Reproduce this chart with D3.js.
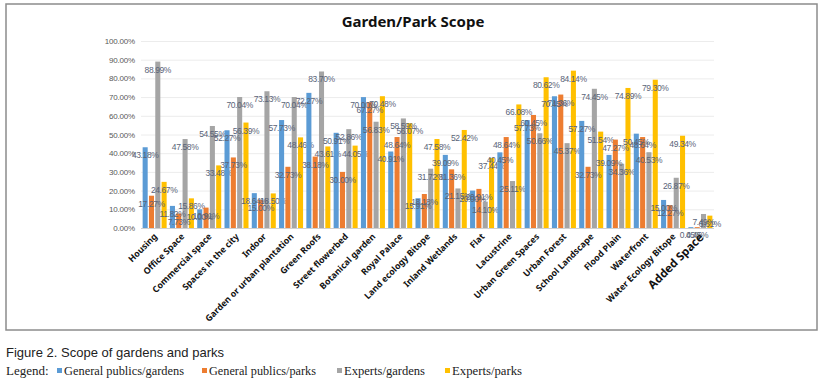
<!DOCTYPE html>
<html>
<head>
<meta charset="utf-8">
<script src="https://cdn.jsdelivr.net/npm/d3@7"></script>
<style>
  body { margin: 0; background: #fff; }
  svg { display: block; }
</style>
</head>
<body>
<div id="chart"></div>
<script>
var categories = ['Housing', 'Office Space', 'Commercial space', 'Spaces in the city', 'Indoor',
    'Garden or urban plantation', 'Green Roofs', 'Street flowerbed', 'Botanical garden', 'Royal Palace',
    'Land ecology Bitope', 'Inland Wetlands', 'Flat', 'Lacustrine', 'Urban Green Spaces', 'Urban Forest',
    'School Landscape', 'Flood Plain', 'Waterfront', 'Water Ecology Bitope', 'Added Space'];

var seriesNames = ['General publics/gardens', 'General publics/parks', 'Experts/gardens', 'Experts/parks'];

var publicGardens = [43.18, 11.82, 10.00, 52.27, 18.64, 57.73, 72.27, 50.91, 70.00, 40.91,
    15.91, 39.09, 20.00, 40.45, 57.73, 70.45, 57.27, 39.09, 50.45, 15.00, 0.45];
var publicParks = [17.27, 7.73, 10.91, 37.73, 15.00, 32.73, 38.18, 30.00, 67.27, 48.64,
    18.18, 31.36, 20.91, 48.64, 60.45, 71.36, 32.73, 47.27, 48.64, 12.27, 0.45];
var expertGardens = [88.99, 47.58, 54.55, 70.04, 73.13, 70.04, 83.70, 52.86, 56.83, 58.59,
    31.72, 21.15, 14.10, 25.11, 50.66, 45.37, 74.45, 34.36, 40.53, 26.87, 7.49];
var expertParks = [24.67, 15.86, 33.48, 56.39, 18.50, 48.46, 43.61, 44.05, 70.48, 56.07,
    47.58, 52.42, 37.44, 66.08, 80.62, 84.14, 51.54, 74.89, 79.30, 49.34, 6.61];

var yTicks = [0, 10, 20, 30, 40, 50, 60, 70, 80, 90, 100];
var colors = ['#5b9bd5', '#ed7d31', '#a5a5a5', '#ffc000'];

var allSeries = [publicGardens, publicParks, expertGardens, expertParks];

var W = 827, H = 381;
var svg = d3.select('#chart').append('svg')
    .attr('width', W)
    .attr('height', H);

// chart frame
svg.append('rect')
    .attr('x', 6).attr('y', 4)
    .attr('width', 811).attr('height', 326)
    .attr('fill', '#fff')
    .attr('stroke', '#8c8c8c')
    .attr('stroke-width', 1.5);

svg.append('text')
    .attr('x', 413).attr('y', 27)
    .attr('text-anchor', 'middle')
    .attr('font-family', 'Noto Sans, sans-serif')
    .attr('font-weight', 'bold')
    .attr('font-size', 15)
    .attr('fill', '#111')
    .text('Garden/Park Scope');

var x = d3.scaleBand()
    .domain(categories)
    .range([141, 714])
    .paddingInner(0.12)
    .paddingOuter(0.06);

var x1 = d3.scaleBand()
    .domain(d3.range(seriesNames.length))
    .range([0, x.bandwidth()])
    .paddingInner(0.2);

var y = d3.scaleLinear()
    .domain([0, 100])
    .range([228, 41]);

// gridlines
svg.append('g')
    .selectAll('line')
    .data(yTicks)
    .enter()
    .append('line')
    .attr('x1', 141).attr('x2', 714)
    .attr('y1', function(d) { return y(d) + 0.5; })
    .attr('y2', function(d) { return y(d) + 0.5; })
    .attr('stroke', function(d) { return d === 0 ? '#d0d0d0' : '#ececec'; })
    .attr('stroke-width', 1);

var yAxis = d3.axisLeft(y)
    .tickValues(yTicks)
    .tickSize(0)
    .tickPadding(0)
    .tickFormat(function(d) { return d.toFixed(2) + '%'; });

var gy = svg.append('g')
    .attr('transform', 'translate(135,0)')
    .call(yAxis);
gy.select('.domain').remove();
gy.selectAll('text')
    .attr('font-family', 'Liberation Sans, Arial, sans-serif')
    .attr('font-size', 8)
    .attr('letter-spacing', -0.2)
    .attr('fill', '#595959');

// bars
var groups = svg.append('g')
    .selectAll('g')
    .data(categories)
    .enter()
    .append('g')
    .attr('transform', function(d) { return 'translate(' + x(d) + ',0)'; });

groups.selectAll('rect')
    .data(function(d, i) { return allSeries.map(function(s, k) { return { k: k, v: s[i] }; }); })
    .enter()
    .append('rect')
    .attr('x', function(d) { return x1(d.k); })
    .attr('y', function(d) { return y(d.v); })
    .attr('width', x1.bandwidth())
    .attr('height', function(d) { return y(0) - y(d.v); })
    .attr('fill', function(d) { return colors[d.k]; });

// data labels
groups.selectAll('text')
    .data(function(d, i) { return allSeries.map(function(s, k) { return { k: k, v: s[i] }; }); })
    .enter()
    .append('text')
    .attr('x', function(d) { return x1(d.k) + x1.bandwidth() / 2; })
    .attr('y', function(d) { return y(d.v) + 11; })
    .attr('text-anchor', 'middle')
    .attr('font-family', 'Liberation Sans, Arial, sans-serif')
    .attr('font-size', 8.5)
    .attr('letter-spacing', -0.4)
    .attr('fill', '#5a6478')
    .text(function(d) { return d.v.toFixed(2) + '%'; });

// category labels
var xAxis = d3.axisBottom(x).tickSize(0).tickPadding(0);
var gx = svg.append('g')
    .attr('transform', 'translate(0,234)')
    .call(xAxis);
gx.select('.domain').remove();
gx.selectAll('text')
    .attr('font-family', 'Noto Sans, sans-serif')
    .attr('font-weight', 'bold')
    .attr('font-size', function(d) { return d === 'Added Space' ? 11.5 : 8.8; })
    .attr('fill', '#111')
    .attr('text-anchor', 'end')
    .attr('dy', '0.5em')
    .attr('transform', 'rotate(-45)');

// caption below the frame
svg.append('text')
    .attr('x', 6).attr('y', 357)
    .attr('font-family', 'Liberation Sans, Arial, sans-serif')
    .attr('font-size', 13.5)
    .attr('fill', '#222')
    .attr('textLength', 218)
    .attr('lengthAdjust', 'spacingAndGlyphs')
    .text('Figure 2. Scope of gardens and parks');

var legendX = [57, 202, 337, 445];
var legendW = [120, 107, 81, 70];

svg.append('text')
    .attr('x', 6).attr('y', 375)
    .attr('font-family', 'Liberation Serif, serif')
    .attr('font-size', 13)
    .attr('fill', '#222')
    .text('Legend:');

var leg = svg.append('g')
    .selectAll('g')
    .data(seriesNames)
    .enter()
    .append('g');

leg.append('rect')
    .attr('x', function(d, i) { return legendX[i]; })
    .attr('y', 368)
    .attr('width', 5).attr('height', 5)
    .attr('fill', function(d, i) { return colors[i]; });

leg.append('text')
    .attr('x', function(d, i) { return legendX[i] + 7; })
    .attr('y', 375)
    .attr('font-family', 'Liberation Serif, serif')
    .attr('font-size', 13)
    .attr('fill', '#222')
    .attr('textLength', function(d, i) { return legendW[i]; })
    .attr('lengthAdjust', 'spacingAndGlyphs')
    .text(function(d) { return d; });
</script>
</body>
</html>
